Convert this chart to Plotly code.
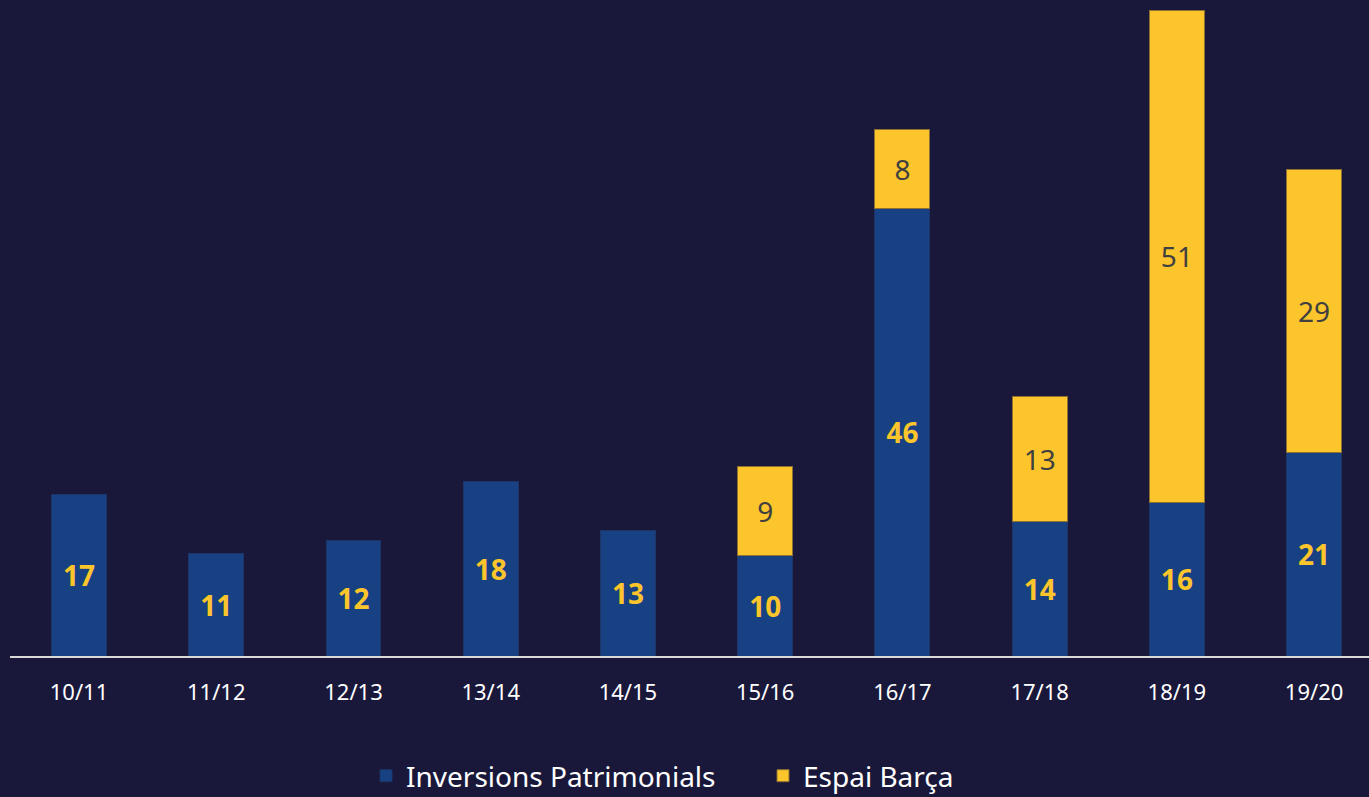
import plotly.graph_objects as go

seasons = ["10/11", "11/12", "12/13", "13/14", "14/15", "15/16", "16/17", "17/18", "18/19", "19/20"]
inversions = [16.7, 10.6, 12.0, 18.1, 13.0, 10.4, 46.4, 14.0, 15.9, 21.1]
espai = [None, None, None, None, None, 9.3, 8.2, 12.9, 51.1, 29.4]

BG = "#19183a"
BLUE = "#174183"
YELLOW = "#fdc52c"
FONT = "Noto Sans"

fig = go.Figure()
fig.add_trace(go.Bar(
    x=seasons, y=inversions, name="Inversions Patrimonials",
    marker=dict(color=BLUE, line=dict(color="#1c3566", width=1)),
    width=0.4,
    texttemplate="%{y:.0f}", textposition="inside", insidetextanchor="middle",
    textfont=dict(family=FONT, size=28, color=YELLOW, weight="bold"),
    constraintext="none",
))
fig.add_trace(go.Bar(
    x=seasons, y=espai, name="Espai Barça",
    marker=dict(color=YELLOW, line=dict(color="#8c7131", width=1)),
    width=0.4,
    texttemplate="%{y:.0f}", textposition="inside", insidetextanchor="middle",
    textfont=dict(family=FONT, size=28, color="#404040"),
    constraintext="none",
))

fig.update_layout(
    width=1369, height=797,
    barmode="stack",
    paper_bgcolor=BG, plot_bgcolor=BG,
    margin=dict(l=10, r=0, t=10, b=141, autoexpand=False),
    showlegend=True,
    legend=dict(orientation="h", traceorder="normal",
                xref="container", x=366 / 1369, xanchor="left",
                yref="container", y=1 - 776 / 797, yanchor="middle",
                entrywidth=352, entrywidthmode="pixels",
                font=dict(family=FONT, size=28, color="#ffffff"),
                itemwidth=30, tracegroupgap=0),
    xaxis=dict(type="category", range=[-0.503, 9.40], showgrid=False, zeroline=False,
               showline=True, linecolor="#d9d9d9", linewidth=2,
               ticks="", ticklabelstandoff=16,
               tickfont=dict(family=FONT, size=22, color="#ffffff")),
    yaxis=dict(range=[0, 67], visible=False, showgrid=False, zeroline=False),
)

fig.write_html("out.html", config={"displayModeBar": False},
               post_script="document.body.style.margin='0';")
